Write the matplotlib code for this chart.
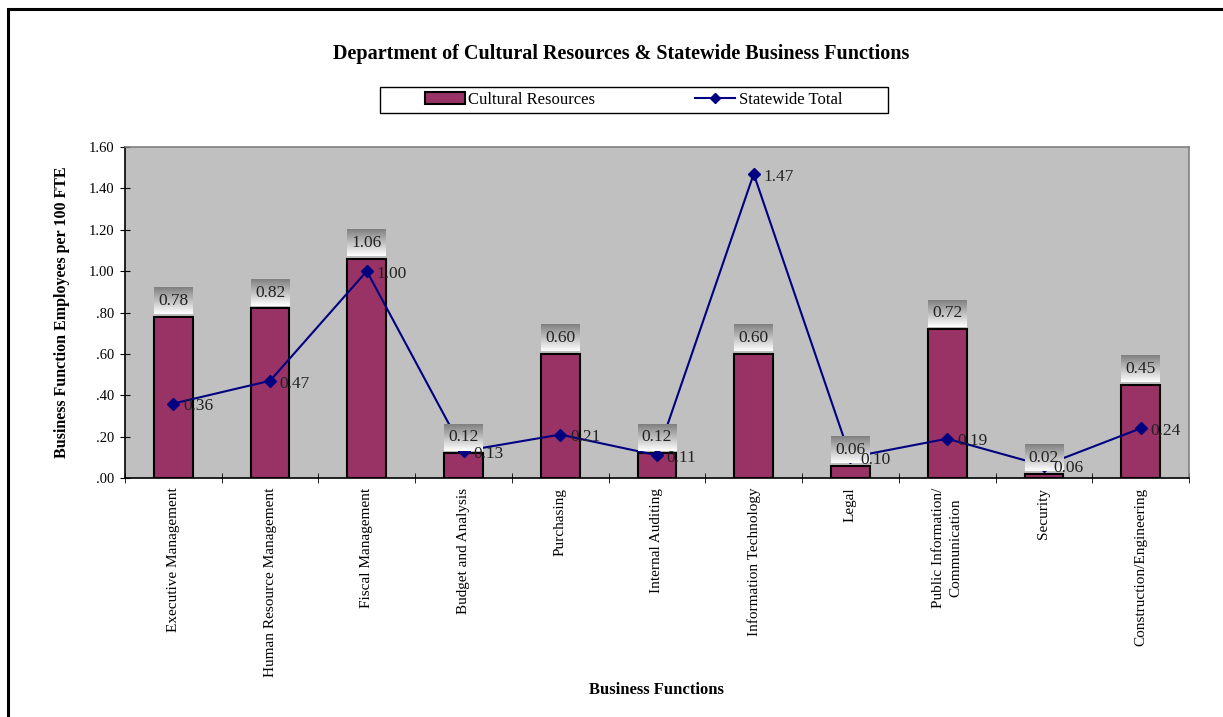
import numpy as np
import matplotlib
matplotlib.use('Agg')
import matplotlib.pyplot as plt
from matplotlib.patches import Rectangle
from matplotlib.ticker import FuncFormatter

plt.rcParams['font.family'] = ['Liberation Serif', 'DejaVu Serif']

categories = ['Executive Management', 'Human Resource Management', 'Fiscal Management',
              'Budget and Analysis', 'Purchasing', 'Internal Auditing',
              'Information Technology', 'Legal', 'Public Information/\nCommunication',
              'Security', 'Construction/Engineering']
cultural = [0.78, 0.82, 1.06, 0.12, 0.60, 0.12, 0.60, 0.06, 0.72, 0.02, 0.45]
statewide = [0.36, 0.47, 1.00, 0.13, 0.21, 0.11, 1.47, 0.10, 0.19, 0.06, 0.24]

bar_color = '#993366'
line_color = '#000080'

fig = plt.figure(figsize=(12.23, 7.17), dpi=100)
ax = fig.add_axes([0.1022, 0.3333, 0.870, 0.4617])
ax.set_facecolor('#C0C0C0')

x = np.arange(len(categories))
bw = 0.40
bars = ax.bar(x, cultural, width=bw, color=bar_color, edgecolor='black', linewidth=1.5,
              zorder=2, label='Cultural Resources')
line, = ax.plot(x, statewide, color=line_color, linewidth=1.5, marker='D', markersize=6,
                zorder=3, label='Statewide Total')

# value boxes above the bars (gray gradient)
grad = np.linspace(0.5, 1.0, 60).reshape(-1, 1)
for xi, v in zip(x, cultural):
    y0, y1 = v + 0.012, v + 0.14
    ax.imshow(grad, extent=[xi - bw / 2, xi + bw / 2, y0, y1], aspect='auto',
              cmap='gray', vmin=0, vmax=1, zorder=4)
    ax.text(xi, (y0 + y1) / 2, f'{v:.2f}', ha='center', va='center',
            fontsize=12.5, color='#222222', zorder=5)

for xi, v in zip(x, statewide):
    ax.annotate(f'{v:.2f}', (xi, v), xytext=(7, -2), textcoords='offset points',
                ha='left', va='center', fontsize=12.5, color='#222222', zorder=6)

ax.set_xlim(-0.5, len(categories) - 0.5)
ax.set_ylim(0, 1.6)
ax.set_yticks(np.arange(0, 1.61, 0.2))
ax.yaxis.set_major_formatter(FuncFormatter(lambda v, p: f'{v:.2f}'.lstrip('0') if v < 1 else f'{v:.2f}'))
ax.tick_params(axis='y', direction='inout', length=7, labelsize=10.5, pad=4)

ax.set_xticks(x)
ax.set_xticklabels(categories, rotation=90, va='top', ha='center', fontsize=11,
                   linespacing=1.5)
ax.set_xticks(np.arange(-0.5, len(categories)), minor=True)
ax.tick_params(axis='x', which='major', length=0, pad=7)
ax.tick_params(axis='x', which='minor', direction='inout', length=7)

for s in ['left', 'bottom']:
    ax.spines[s].set_color('black')
    ax.spines[s].set_linewidth(1.2)
for s in ['top', 'right']:
    ax.spines[s].set_color('#808080')
    ax.spines[s].set_linewidth(1.2)

ax.set_ylabel('Business Function Employees per 100 FTE', fontsize=11.5,
              fontweight='bold', labelpad=14)
fig.text(0.537, 0.038, 'Business Functions', ha='center', va='center',
         fontsize=12, fontweight='bold')
fig.text(0.508, 0.925, 'Department of Cultural Resources & Statewide Business Functions',
         ha='center', va='center', fontsize=14.5, fontweight='bold')

fig.legend(handles=[bars, line], labels=['Cultural Resources', 'Statewide Total'],
           loc='center', bbox_to_anchor=(0.518, 0.861), ncol=2, fontsize=12,
           frameon=False, handlelength=2.4, columnspacing=6.0, handletextpad=0.2,
           markerscale=0.8)
fig.patches.append(Rectangle((380 / 1223, 1 - 113 / 717), 508 / 1223, 26 / 717,
                             transform=fig.transFigure, fill=False,
                             edgecolor='black', linewidth=1.0))

# outer chart border
fig.patches.append(Rectangle((8 / 1223, -0.1), 1.1, 1.1 - 9 / 717,
                             transform=fig.transFigure, fill=False,
                             edgecolor='black', linewidth=2.2))

fig.savefig('out.png', dpi=100)
